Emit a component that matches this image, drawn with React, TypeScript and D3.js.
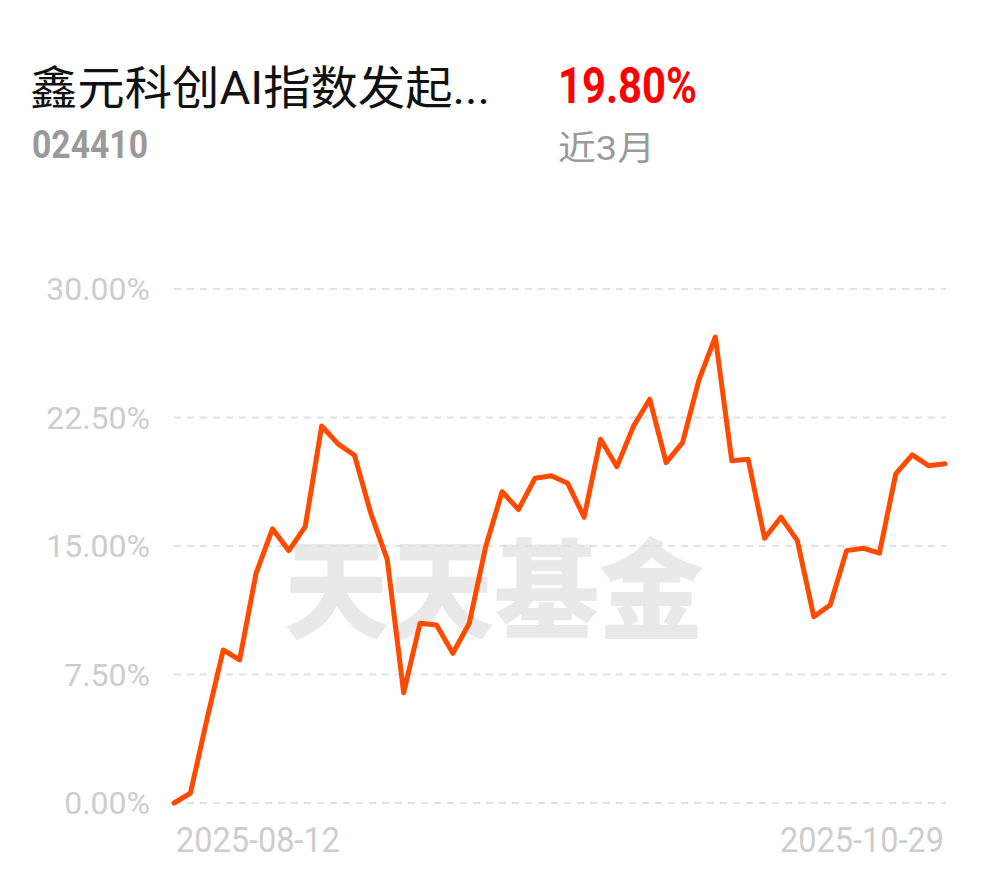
import React from "react";
import * as d3 from "d3";

const values: number[] = [
  0, 0.57, 4.85, 8.93, 8.35, 13.4, 16.0, 14.73, 16.13, 22.0, 20.96, 20.3,
  16.9, 14.2, 6.44, 10.49, 10.39, 8.74, 10.49, 14.96, 18.17, 17.13, 18.95, 19.1,
  18.66, 16.68, 21.23, 19.63, 21.97, 23.57, 19.87, 21.03, 24.69, 27.2, 19.98, 20.06,
  15.45, 16.68, 15.31, 10.88, 11.56, 14.73, 14.87, 14.58, 19.21, 20.32, 19.69, 19.8,
];
const yTicks: number[] = [0, 7.5, 15, 22.5, 30];
const dateLabels: string[] = ["2025-08-12", "2025-10-29"];
const title = "鑫元科创AI指数发起...";
const code = "024410";
const ret = "19.80%";
const period = "近3月";

export default function App() {
  const W = 990, H = 878;
  const x = d3.scaleLinear().domain([0, values.length - 1]).range([174, 945]);
  const y = d3.scaleLinear().domain([0, 30]).range([803, 289]);
  const line = d3.line<number>().x((_, i) => x(i)).y((d) => y(d));
  const sans = "Roboto, 'Noto Sans CJK SC', sans-serif";
  return (
    <svg width={W} height={H} style={{ position: "absolute", left: 0, top: 0, background: "#fff" }}>
      <text x={30} y={104} fontSize={46} fill="#111" fontFamily={sans} textLength={460} lengthAdjust="spacingAndGlyphs">{title}</text>
      <text x={558} y={103} fontSize={50} fontWeight={700} fill="#f00" fontFamily={sans} textLength={139} lengthAdjust="spacingAndGlyphs">{ret}</text>
      <text x={32} y={158} fontSize={38} fontWeight={700} fill="#9a9a9a" fontFamily={sans} textLength={116} lengthAdjust="spacingAndGlyphs">{code}</text>
      <text x={558} y={160} fontSize={34} fill="#9a9a9a" fontFamily={sans} textLength={97} lengthAdjust="spacingAndGlyphs">{period}</text>

      <text x={494} y={630} fontSize={108} fontWeight={900} fill="#e9e9e9" textAnchor="middle" fontFamily="'Noto Sans CJK SC', sans-serif" textLength={420} lengthAdjust="spacingAndGlyphs">天天基金</text>

      {yTicks.map((t) => (
        <g key={t}>
          <line x1={174} x2={946} y1={y(t)} y2={y(t)} stroke="#e2e2e2" strokeWidth={2} strokeDasharray="7 6" />
          <text x={150} y={y(t) + 11} textAnchor="end" fontSize={32} fill="#cdcdcd" fontFamily={sans}>
            {t.toFixed(2) + "%"}
          </text>
        </g>
      ))}

      <text x={176} y={852} fontSize={35} fill="#cdcdcd" fontFamily={sans} textLength={164} lengthAdjust="spacingAndGlyphs">{dateLabels[0]}</text>
      <text x={944} y={852} fontSize={35} fill="#cdcdcd" fontFamily={sans} textAnchor="end" textLength={164} lengthAdjust="spacingAndGlyphs">{dateLabels[1]}</text>

      <path d={line(values) || ""} fill="none" stroke="#ff4a00" strokeWidth={5} strokeLinejoin="round" strokeLinecap="round" />
    </svg>
  );
}
